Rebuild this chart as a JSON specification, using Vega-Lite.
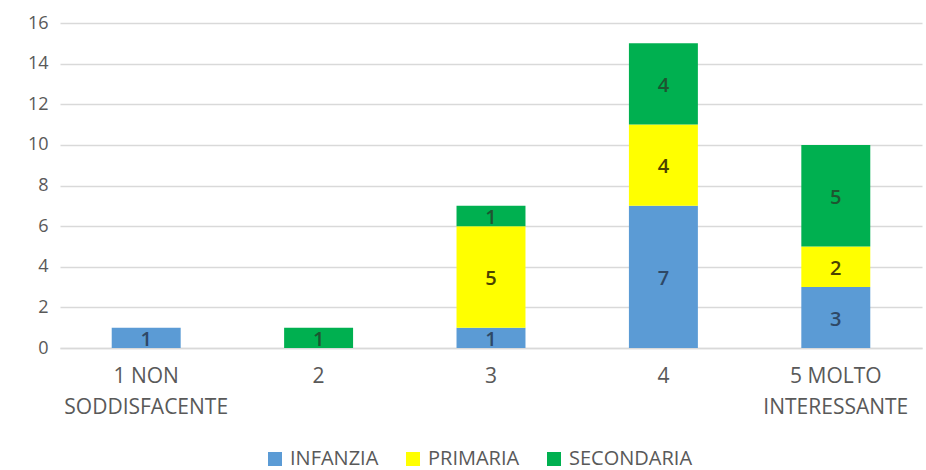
{
  "$schema": "https://vega.github.io/schema/vega-lite/v6.json",
  "width": 862,
  "height": 325,
  "autosize": {"type": "none"},
  "padding": {"left": 60, "top": 23, "right": 4, "bottom": 122},
  "background": "white",
  "config": {"view": {"stroke": null}, "font": "Open Sans"},
  "data": {
    "values": [
      {"cat": "1 NON SODDISFACENTE", "serie": "INFANZIA", "ord": 1, "value": 1},
      {"cat": "2", "serie": "SECONDARIA", "ord": 3, "value": 1},
      {"cat": "3", "serie": "INFANZIA", "ord": 1, "value": 1},
      {"cat": "3", "serie": "PRIMARIA", "ord": 2, "value": 5},
      {"cat": "3", "serie": "SECONDARIA", "ord": 3, "value": 1},
      {"cat": "4", "serie": "INFANZIA", "ord": 1, "value": 7},
      {"cat": "4", "serie": "PRIMARIA", "ord": 2, "value": 4},
      {"cat": "4", "serie": "SECONDARIA", "ord": 3, "value": 4},
      {"cat": "5 MOLTO INTERESSANTE", "serie": "INFANZIA", "ord": 1, "value": 3},
      {"cat": "5 MOLTO INTERESSANTE", "serie": "PRIMARIA", "ord": 2, "value": 2},
      {"cat": "5 MOLTO INTERESSANTE", "serie": "SECONDARIA", "ord": 3, "value": 5}
    ]
  },
  "transform": [
    {"stack": "value", "groupby": ["cat"], "sort": [{"field": "ord", "order": "ascending"}], "as": ["y0", "y1"]},
    {"calculate": "(datum.y0 + datum.y1) / 2", "as": "ymid"}
  ],
  "encoding": {
    "x": {
      "field": "cat",
      "type": "nominal",
      "sort": ["1 NON SODDISFACENTE", "2", "3", "4", "5 MOLTO INTERESSANTE"],
      "scale": {"paddingInner": 0.6, "paddingOuter": 0.3},
      "axis": {
        "title": null,
        "labelAngle": 0,
        "labelExpr": "datum.value == '1 NON SODDISFACENTE' ? ['1 NON', 'SODDISFACENTE'] : datum.value == '5 MOLTO INTERESSANTE' ? ['5 MOLTO', 'INTERESSANTE'] : datum.value",
        "labelFontSize": 21,
        "labelColor": "#595959",
        "labelLineHeight": 31,
        "labelPadding": 17,
        "ticks": false,
        "domainColor": "#d9d9d9",
        "domainWidth": 1.5
      }
    }
  },
  "layer": [
    {
      "mark": {"type": "bar"},
      "encoding": {
        "y": {
          "field": "y0",
          "type": "quantitative",
          "scale": {"domain": [0, 16]},
          "axis": {
            "title": null,
            "values": [0, 2, 4, 6, 8, 10, 12, 14, 16],
            "labelFontSize": 18,
            "labelColor": "#595959",
            "labelPadding": 12,
            "ticks": false,
            "domain": false,
            "gridColor": "#d9d9d9",
            "gridWidth": 1.5
          }
        },
        "y2": {"field": "y1"},
        "color": {
          "field": "serie",
          "type": "nominal",
          "scale": {"domain": ["INFANZIA", "PRIMARIA", "SECONDARIA"], "range": ["#5B9BD5", "#FFFF00", "#00B050"]},
          "legend": {
            "title": null,
            "orient": "none",
            "direction": "horizontal",
            "legendX": 203,
            "legendY": 424,
            "padding": 2,
            "symbolType": "square",
            "symbolSize": 196,
            "symbolStrokeWidth": 0,
            "labelFontSize": 20,
            "labelColor": "#595959",
            "labelOffset": 5,
            "columnPadding": 24
          }
        }
      }
    },
    {
      "mark": {"type": "text", "fontSize": 20, "fontWeight": 600, "baseline": "middle", "dy": 2},
      "encoding": {
        "y": {"field": "ymid", "type": "quantitative"},
        "text": {"field": "value", "type": "quantitative"},
        "color": {
          "field": "serie",
          "type": "nominal",
          "scale": {"domain": ["INFANZIA", "PRIMARIA", "SECONDARIA"], "range": ["#2E4866", "#4A4200", "#1E5530"]},
          "legend": null
        }
      }
    }
  ],
  "resolve": {"scale": {"color": "independent"}}
}
